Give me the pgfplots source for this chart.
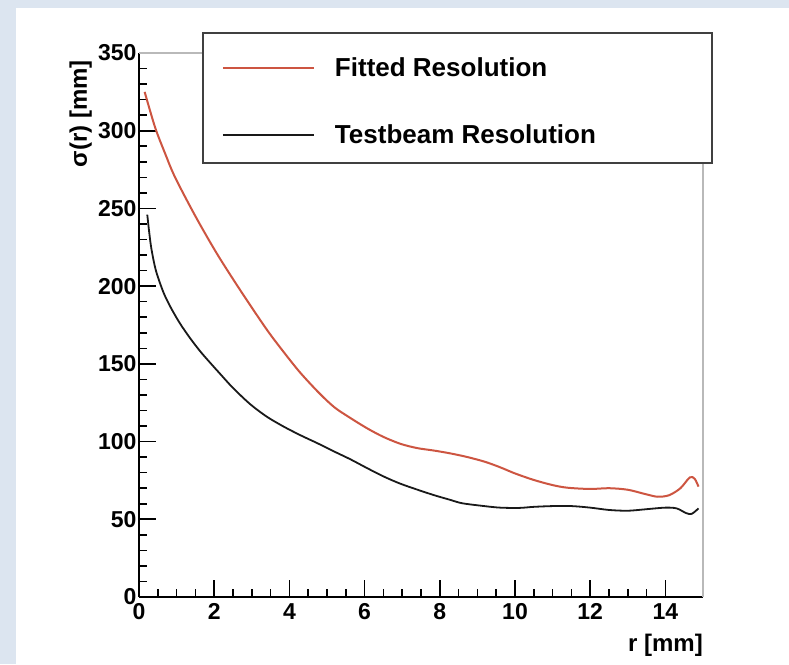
\documentclass[border=0pt]{standalone}
\usepackage{pgfplots}
\pgfplotsset{compat=1.18}
\usepackage{fontspec}
\setmainfont{Liberation Sans}
\definecolor{bgblue}{RGB}{220,229,240}
\definecolor{fitred}{RGB}{205,85,65}
\definecolor{framegray}{RGB}{185,185,185}
\begin{document}
\begin{tikzpicture}[x=1pt,y=1pt]
\path[use as bounding box] (0,0) rectangle (789,664);
\fill[bgblue] (0,0) rectangle (789,664);
\fill[white] (16,0) rectangle (789,656);
\begin{axis}[
  at={(139pt,67pt)}, anchor=south west,
  scale only axis, width=564pt, height=544pt,
  xmin=0, xmax=15, ymin=0, ymax=350,
  axis lines*=left,
  axis line style={line width=1.6pt, black},
  clip=false,
  xtick={0,2,...,14}, ytick={0,50,...,350},
  minor x tick num=3, minor y tick num=4,
  tick align=inside,
  major tick length=17pt, minor tick length=8pt,
  every tick/.append style={black, line width=1.6pt},
  every major tick/.append style={black, line width=1.6pt},
  every minor tick/.append style={black, line width=1.6pt},
  x tick style={line width=1.6pt},
  y tick style={line width=1.6pt},
  minor x tick style={line width=1.6pt},
  minor y tick style={line width=1.6pt},
  tick label style={font=\bfseries\fontsize{23}{23}\selectfont},
  /pgf/number format/assume math mode=true,
  xticklabel style={yshift=-3pt},
  yticklabel style={xshift=1pt},
  xlabel={r [mm]}, ylabel={σ(r) [mm]},
  label style={font=\bfseries\fontsize{24}{24}\selectfont, inner sep=0pt},
  xlabel style={at={(axis description cs:1,-0.068)}, anchor=north east},
  ylabel style={at={(axis description cs:-0.0833,0.987)}, anchor=south east},
  legend cell align=left,
  legend style={at={(axis description cs:0.14716,0.9917)}, anchor=north west,
    draw=none, fill=none, inner sep=0pt, outer sep=0pt,
    row sep=47pt, column sep=20pt,
    font=\bfseries\fontsize{26}{26}\selectfont,
    nodes={inner sep=0pt}},
  legend image code/.code={\draw[#1] (0pt,0pt) -- (91pt,0pt);},
]
\draw[framegray, line width=2.5pt] (rel axis cs:0,1) -- (rel axis cs:1,1) -- (rel axis cs:1,0);
\draw[fill=white, draw=black!75, line width=1.6pt] (axis description cs:0.11348,1.03676) rectangle (axis description cs:1.01596,0.79779);
\addplot[fitred, line width=2pt, smooth] coordinates {
(0.15,325) (0.43,302) (0.7,285) (0.96,270) (1.5,245) (2.07,221) (2.69,197.5)
(3.4,172) (3.9,156) (4.3,144) (4.8,131) (5.2,122) (5.6,115.5) (6.07,108.5)
(6.5,103) (6.96,98.5) (7.4,95.8) (7.85,94.2) (8.3,92.3) (8.74,90) (9.2,87)
(9.6,83.5) (10.0,79.5) (10.5,75.3) (11.0,72) (11.4,70.3) (12.0,69.5) (12.5,70)
(13.0,69) (13.5,66) (13.8,64.5) (14.1,65.5) (14.4,70) (14.65,77) (14.78,76) (14.88,71)
};
\addlegendentry{Fitted Resolution}
\addplot[black!90, line width=1.8pt, smooth] coordinates {
(0.22,246) (0.27,235) (0.33,224) (0.45,210) (0.65,196) (0.85,186) (1.09,176)
(1.36,166.5) (1.63,158) (1.9,150.5) (2.16,143.5) (2.5,134.5) (2.96,124) (3.4,116)
(3.85,109.6) (4.3,104) (4.74,99) (5.2,93.5) (5.63,88.5) (6.06,83) (6.51,77.5)
(6.94,73) (7.41,69) (7.85,65.5) (8.29,62.4) (8.6,60.3) (9.18,58.5) (9.6,57.5)
(10.1,57.3) (10.5,58) (11.0,58.5) (11.5,58.5) (12.0,57.5) (12.5,56) (13.0,55.5)
(13.5,56.5) (14.0,57.5) (14.3,57) (14.55,54) (14.7,53.5) (14.88,57)
};
\addlegendentry{Testbeam Resolution}
\end{axis}
\end{tikzpicture}
\end{document}
